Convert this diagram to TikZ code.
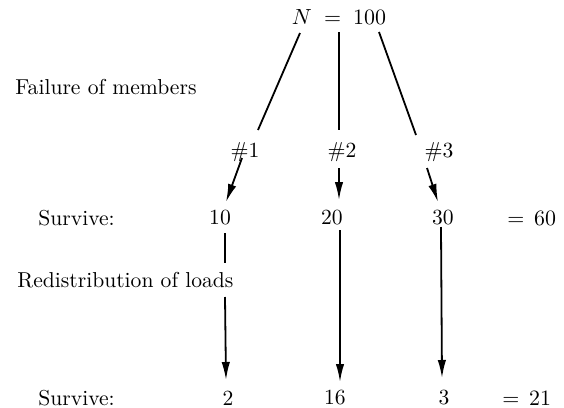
\documentclass[tikz,border=0pt]{standalone}
\usetikzlibrary{arrows.meta}
\begin{document}
\begin{tikzpicture}[x=0.5pt,y=-0.5pt,
  every node/.style={inner sep=0pt,font=\fontsize{10.8}{13}\selectfont},
  conn/.style={line width=0.9pt},
  arr/.style={line width=0.9pt,-{Latex[length=9pt,width=4.2pt]}},
  rowlabel/.style={anchor=west}]
\useasboundingbox (0,0) rectangle (564,408);

% root
\node (top) at (339,17) {$N\;=\;100$};

% member labels
\node (h1) at (245,152) {\#1};
\node (h2) at (342,152) {\#2};
\node (h3) at (439,152) {\#3};

% first survivor row
\node[rowlabel] (fail) at (15,87) {Failure of members};
\node[rowlabel] (surv1) at (38,218) {Survive:};
\node (n10) at (220,218) {10};
\node (n20) at (332,218) {20};
\node (n30) at (443,218) {30};
\node[rowlabel] (sum1) at (507,218) {$=\,60$};

% redistribution
\node[rowlabel] (redist) at (17,280) {Redistribution of loads};

% second survivor row
\node[rowlabel] (surv2) at (38,398) {Survive:};
\node (n2) at (228,398) {2};
\node (n16) at (335,398) {16};
\node (n3) at (444,398) {3};
\node[rowlabel] (sum2) at (502,398) {$=\,21$};

% failure branches
\draw[conn] ([shift={(-39,16)}]top.center) -- ([shift={(13,-22)}]h1.center);
\draw[conn] ([shift={(0,15)}]top.center) -- ([shift={(-3,-22)}]h2.center);
\draw[conn] ([shift={(40,15)}]top.center) -- ([shift={(-23,-17)}]h3.center);

\draw[arr] ([shift={(-3,6)}]h1.center) -- ([shift={(6,-16)}]n10.center);
\draw[arr] ([shift={(-3,16)}]h2.center) -- ([shift={(7,-18)}]n20.center);
\draw[arr] ([shift={(-12,16)}]h3.center) -- ([shift={(-5,-16)}]n30.center);

% load redistribution
\draw[conn] ([shift={(5,15)}]n10.center) -- ([shift={(5,45)}]n10.center);
\draw[arr] ([shift={(5,79)}]n10.center) -- ([shift={(-2,-18)}]n2.center);
\draw[arr] ([shift={(8,12)}]n20.center) -- ([shift={(5,-16)}]n16.center);
\draw[arr] ([shift={(-2,9)}]n30.center) -- ([shift={(-2,-20)}]n3.center);
\end{tikzpicture}
\end{document}
